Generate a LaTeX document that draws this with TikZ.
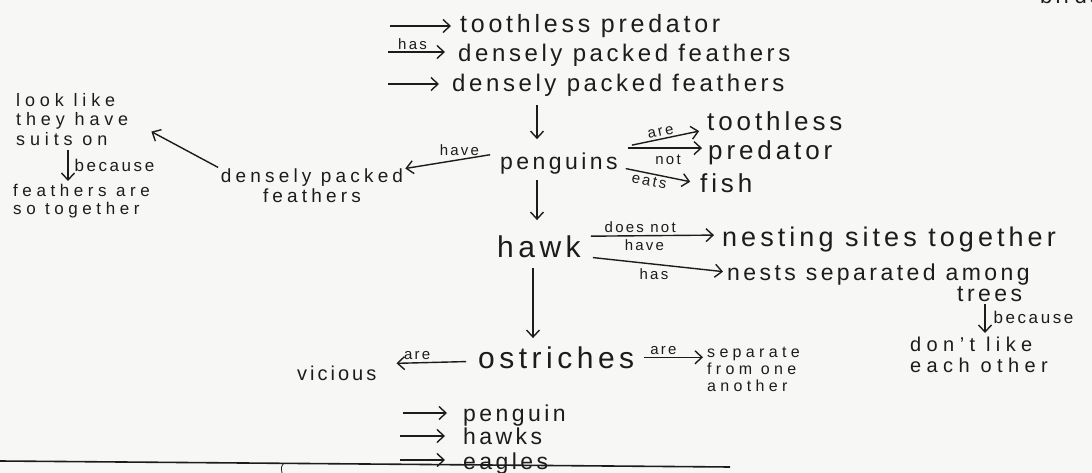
\documentclass[tikz,border=0pt]{standalone}
\usepackage{fontspec}
\setmainfont{Liberation Sans}[LetterSpace=15]
\usetikzlibrary{arrows.meta,calc}
\definecolor{ink}{RGB}{28,28,28}
\definecolor{paper}{RGB}{247,247,245}
\begin{document}
\begin{tikzpicture}[x=1pt,y=-1pt,
  every node/.style={inner sep=0pt,text=ink},
  tx/.style={anchor=base west,font=\fontsize{#1}{#1}\selectfont},
  lb/.style={font=\fontsize{15}{15}\selectfont},
  lbb/.style={font=\fontsize{17}{17}\selectfont},
  ml/.style n args={2}{align=left,anchor=north west,font=\fontsize{#1}{#2}\selectfont\addfontfeatures{LetterSpace=27}},
  arr/.style={draw=ink,line width=1.4pt,-{Straight Barb[length=7pt,width=13pt,line width=1.4pt]}}]
\fill[paper] (0,0) rectangle (1092,473);
\useasboundingbox (0,0) rectangle (1092,473);

% top rows
\node[tx=25] (t1) at (460,33) {toothless predator};
\node[tx=24] (t2) at (458,62) {densely packed feathers};
\node[tx=24] (t3) at (452,92) {densely packed feathers};
\coordinate (s1) at (390,26);
\coordinate (s2) at (388,52);
\coordinate (s3) at (388,84);
\draw[arr,shorten >=9pt] (s1) -- (s1 -| t1.west);
\draw[arr,shorten >=13pt] (s2) -- (s2 -| t2.west) node[lb,pos=0.35,above=2pt] {has};
\draw[arr,shorten >=13pt] (s3) -- (s3 -| t3.west);

% penguins
\node[tx=23] (pen) at (500,170) {penguins};
\coordinate (d1) at (537,105);
\draw[arr,shorten >=14pt] (d1) -- (d1 |- pen.north);

\node[align=center,font=\fontsize{19}{20}\selectfont\addfontfeatures{LetterSpace=22}] (dpf) at (312,186) {densely packed\\feathers};
\draw[arr,shorten <=10pt,shorten >=2pt] (pen.north west) -- (dpf.north east)
  node[lb,pos=0.42,above=3pt] {have};

\node[ml={18}{19.5}] (look) at (16,93) {look like\\they have\\suits on};
\draw[arr,shorten <=3pt,shorten >=26pt] (dpf.north west) -- (look.east);

\node[ml={17}{18}] (fa) at (13,184) {feathers are\\so together};
\coordinate (b1) at (68,150);
\draw[arr,shorten >=3pt] (b1) -- (b1 |- fa.north) node[lbb,pos=0.45,right=6pt] {because};

\node[tx=26] (tooth) at (707,131) {toothless};
\node[tx=26] (pred) at (708,160) {predator};
\node[tx=26] (fish) at (700,193) {fish};
\draw[arr,shorten >=8pt] ($(pen.north east)+(14,-8)$) -- ($(tooth.south west)+(0,-2)$)
  node[lb,pos=0.4,above=2pt,sloped] {are};
\draw[arr,shorten <=10pt,shorten >=6pt] ($(pen.east)+(0,-16)$) -- ($(pen.east -| pred.west)+(0,-16)$);
\node[lb] (notl) at (668,160) {not};
\draw[arr,shorten <=8pt,shorten >=10pt] ($(pen.south east)+(0,-8)$) -- (fish.west)
  node[lb,pos=0.4,below=2pt,sloped] {eats};

% hawk
\node[tx=30] (hawk) at (497,258) {hawk};
\coordinate (d2) at (537,180);
\draw[arr,shorten >=16pt] (d2) -- (d2 |- hawk.north);

\node[tx=27] (nest1) at (722,247) {nesting sites together};
\node[tx=23] (nest2) at (727,280) {nests separated among};
\node[tx=23] (trees) at (957,301) {trees};
\draw[arr,shorten <=10pt,shorten >=8pt] ($(hawk.east)+(0,-11)$) -- ($(nest1.west)+(0,-5)$)
  node[lb,pos=0.42,above=2pt] {does not}
  node[lb,pos=0.45,below=3pt] {have};
\draw[arr,shorten <=12pt,shorten >=4pt] ($(hawk.east)+(0,9)$) -- ($(nest2.west)+(0,-2)$)
  node[lb,pos=0.5,below=4pt] {has};

\node[ml={20}{21}] (dont) at (910,337) {don't like\\each other};
\coordinate (b2) at (985,304);
\draw[arr,shorten >=4pt] (b2) -- (b2 |- dont.north) node[lbb,pos=0.4,right=8pt] {because};

% ostriches
\node[tx=30] (ost) at (478,368) {ostriches};
\coordinate (d3) at (533,268);
\draw[arr,shorten >=8pt] (d3) -- (d3 |- ost.north);
\node[tx=20] (vic) at (297,380) {vicious};
\draw[arr,shorten <=12pt,shorten >=20pt] ($(ost.west)+(0,4)$) -- ($(vic.east)+(0,-9)$)
  node[lb,pos=0.6,above=2pt] {are};
\node[ml={16}{17}] (sep) at (707,347) {separate\\from one\\another};
\draw[arr,shorten <=10pt,shorten >=4pt] (ost.east) -- (ost.east -| sep.west)
  node[lb,pos=0.4,above=2pt] {are};

% bottom list
\node[tx=23] (bp) at (463,421) {penguin};
\node[tx=23] (bh) at (463,444) {hawks};
\node[tx=23] (be) at (463,469) {eagles};
\coordinate (c1) at (403,413);
\coordinate (c2) at (400,436);
\coordinate (c3) at (400,460);
\draw[arr,shorten >=16pt] (c1) -- (c1 -| bp.west);
\draw[arr,shorten >=18pt] (c2) -- (c2 -| bh.west);
\draw[arr,shorten >=18pt] (c3) -- (c3 -| be.west);

% page line and top-right cut text
\draw[ink,line width=1.6pt] (0,461) -- (730,467);
\draw[ink,line width=0.8pt] (284,463) .. controls (281,467) .. (282,473);
\node[tx=22] (birds) at (1040,4) {birds};
\end{tikzpicture}
\end{document}
